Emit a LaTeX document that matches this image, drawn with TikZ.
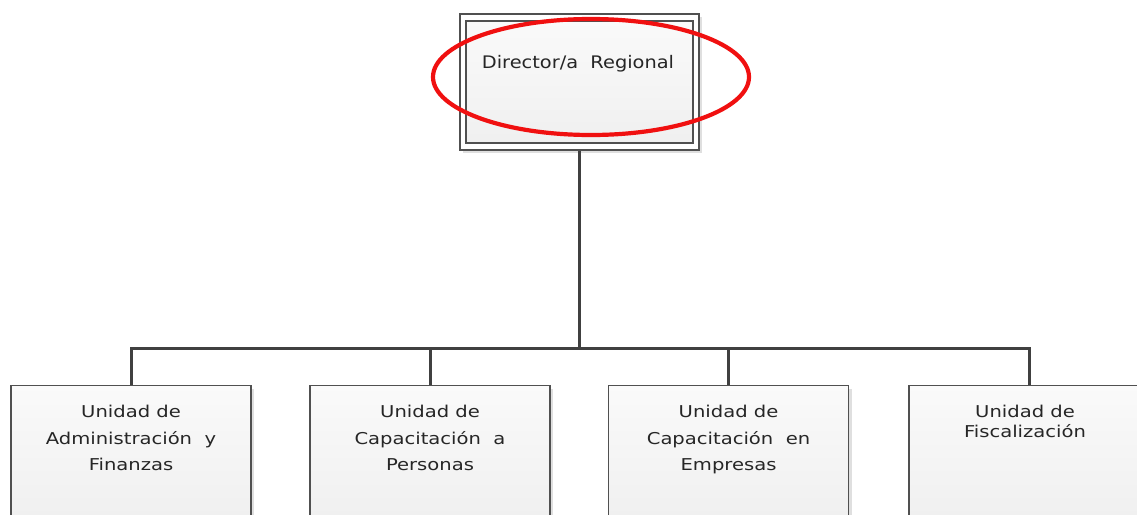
\documentclass[tikz,border=0pt]{standalone}
\usepackage{fontspec}
\setmainfont{DejaVu Sans}
\newfontfamily\dirfont{DejaVu Sans}[FakeStretch=1.12]
\newfontfamily\boxfont{DejaVu Sans}[FakeStretch=1.2]
\usetikzlibrary{shapes.geometric,shadows}
\definecolor{edge}{HTML}{505050}
\definecolor{wire}{HTML}{404040}
\definecolor{ring}{HTML}{F01010}
\definecolor{ink}{HTML}{262626}
\tikzset{
  unitbox/.style={draw=edge, line width=1.2pt, top color=white!98!black, bottom color=white!93!black,
    minimum width=240pt, minimum height=170pt, anchor=north, inner sep=0pt,
    drop shadow={shadow xshift=3pt, shadow yshift=-3pt, opacity=0.25, fill=gray}},
  dirbox/.style={draw=edge, line width=1.2pt, fill=white, minimum width=239pt, minimum height=136pt,
    inner sep=0pt, drop shadow={shadow xshift=3pt, shadow yshift=-3pt, opacity=0.25, fill=gray}},
  dirinner/.style={draw=edge, line width=1.2pt, top color=white!98!black, bottom color=white!94!black,
    minimum width=227pt, minimum height=122pt, inner sep=0pt},
  wirestyle/.style={draw=wire, line width=3pt},
  unittext/.style={font=\boxfont\fontsize{16.3}{26.5}\selectfont, text=ink, align=center, anchor=north, inner sep=0pt},
}
\begin{document}
\begin{tikzpicture}[x=1pt,y=-1pt]
\useasboundingbox (0,0) rectangle (1137,514);
% director box
\node[dirbox] (dir) at (579.5,82) {};
\node[dirinner] (dirin) at (dir.center) {};
\node[font=\dirfont\fontsize{17.3}{20}\selectfont, text=ink, anchor=base, inner sep=0pt] (dirtxt) at (578,68) {Director/a\ \ Regional};
\node[ellipse, draw=ring, line width=4.2pt, minimum width=316pt, minimum height=116pt, inner sep=0pt] (ringnode) at (591,77) {};
% unit boxes
\node[unitbox] (u1) at (131,385) {};
\node[unitbox] (u2) at (430,385) {};
\node[unitbox] (u3) at (728.5,385) {};
\node[unitbox] (u4) at (1029,385) {};
\node[unittext] (t1) at (131,405) {Unidad de\\Administración\ \ y\\Finanzas};
\node[unittext] (t2) at (430,405) {Unidad de\\Capacitación\ \ a\\Personas};
\node[unittext] (t3) at (728.5,405) {Unidad de\\Capacitación\ \ en\\Empresas};
\node[unittext, font=\boxfont\fontsize{16.3}{20}\selectfont] (t4) at (1025,405) {Unidad de\\Fiscalización};
% connectors
\coordinate (bus) at (579,348);
\draw[wirestyle] (dir.south) -- (dir.south |- bus);
\draw[wirestyle, line cap=rect] (u1.north |- bus) -- (u4.north |- bus);
\foreach \u in {u1,u2,u3,u4} \draw[wirestyle] (\u.north |- bus) -- (\u.north);
\end{tikzpicture}
\end{document}
